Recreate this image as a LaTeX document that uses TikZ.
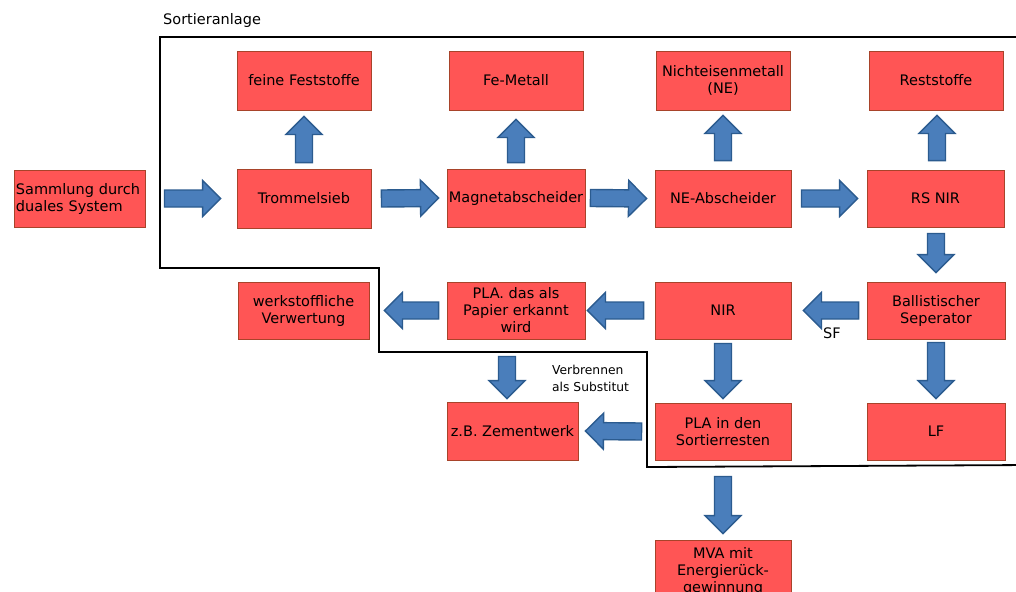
\documentclass[tikz,border=0pt]{standalone}
\usepackage{fontspec}
\setmainfont{DejaVu Sans}
\usetikzlibrary{calc}
\definecolor{boxfill}{HTML}{FF5555}
\definecolor{boxline}{HTML}{A8432A}
\definecolor{arrowfill}{HTML}{4A7EBB}
\definecolor{arrowline}{HTML}{2B5B8F}

% broad outlined block arrow from #1 (tail) to #2 (tip)
\newcommand\blockarrow[2]{%
  \path[draw=arrowline, fill=arrowfill, line width=1.4pt, line join=miter]
    let \p1=(#1), \p2=(#2),
        \n1={atan2(\y2-\y1,\x2-\x1)},
        \n2={veclen(\x2-\x1,\y2-\y1)} in
    {[shift={(\p1)}, rotate=\n1]
     (0pt,-8.5pt) -- (\n2-18pt,-8.5pt) -- (\n2-18pt,-18pt) -- (\n2,0pt)
     -- (\n2-18pt,18pt) -- (\n2-18pt,8.5pt) -- (0pt,8.5pt) -- cycle};}

\begin{document}
\begin{tikzpicture}[x=1pt,y=1pt,
  box/.style={draw=boxline, fill=boxfill, line width=0.9pt, align=center,
    inner sep=1pt, font=\fontsize{14.5}{17}\selectfont},
  label14/.style={inner sep=0pt, font=\fontsize{14.5}{17}\selectfont},
  label12/.style={inner sep=0pt, align=left, font=\fontsize{12.3}{17}\selectfont},
  plant/.style={draw=black, line width=1.8pt, line join=miter}]
\clip (0,0) rectangle (1016,-591);

% boundary of the sorting plant
\draw[plant] (1030,-37) -- (160,-37) -- (160,-268) -- (379,-268) -- (379,-352)
  -- (647,-352) -- (647,-467) -- (1030,-465);
\node[label14, anchor=base west] (title) at (163,-25) {Sortieranlage};

% process boxes
\node[box, minimum width=131pt, minimum height=57pt, text width=127pt, align=left] (samm) at (79.5,-198.5) {Sammlung durch\\duales System};
\node[box, minimum width=134pt, minimum height=59pt] (feine) at (304,-80.5) {feine Feststoffe};
\node[box, minimum width=134pt, minimum height=59pt] (trom) at (304,-198.5) {Trommelsieb};
\node[box, minimum width=134pt, minimum height=59pt] (fe) at (516,-80.5) {Fe-Metall};
\node[box, minimum width=138pt, minimum height=58pt] (mag) at (516,-198) {Magnetabscheider};
\node[box, minimum width=134pt, minimum height=59pt] (nich) at (723,-80.5) {Nichteisenmetall\\(NE)};
\node[box, minimum width=136pt, minimum height=57pt] (nea) at (723,-198.5) {NE-Abscheider};
\node[box, minimum width=134pt, minimum height=59pt] (rest) at (936,-80.5) {Reststoffe};
\node[box, minimum width=137pt, minimum height=57pt] (rs) at (935.5,-198.5) {RS NIR};
\node[box, minimum width=138pt, minimum height=57pt] (ball) at (936,-310.5) {Ballistischer\\Seperator};
\node[box, minimum width=138pt, minimum height=57pt] (lf) at (936,-431.5) {LF};
\node[box, minimum width=136pt, minimum height=57pt] (nir) at (723,-310.5) {NIR};
\node[box, minimum width=136pt, minimum height=57pt] (sort) at (723,-431.5) {PLA in den\\Sortierresten};
\node[box, minimum width=138pt, minimum height=57pt] (pap) at (516,-310.5) {PLA. das als\\Papier erkannt\\wird};
\node[box, minimum width=131pt, minimum height=57pt] (werk) at (303.5,-310.5) {werkstoffliche\\Verwertung};
\node[box, minimum width=131pt, minimum height=58pt] (zem) at (512.5,-431) {z.B. Zementwerk};
\node[box, minimum width=136pt, minimum height=62pt] (mva) at (723,-571) {MVA mit\\Energierück-\\gewinnung};

% flow arrows
\blockarrow{$(samm.east)+(19,0)$}{$(trom.west)+(-16,0)$}
\blockarrow{$(trom.east)+(10,0)$}{$(mag.west)+(-8,0)$}
\blockarrow{$(mag.east)+(5,0)$}{$(nea.west)+(-8,0)$}
\blockarrow{$(nea.east)+(10,0)$}{$(rs.west)+(-9,0)$}
\blockarrow{$(trom.north)+(0,6)$}{$(feine.south)+(0,-6)$}
\blockarrow{$(mag.north)+(0,6)$}{$(fe.south)+(0,-9)$}
\blockarrow{$(nea.north)+(0,9)$}{$(nich.south)+(0,-5)$}
\blockarrow{$(rs.north)+(1.5,9)$}{$(rest.south)+(1,-5)$}
\blockarrow{$(rs.south)+(0.5,-6)$}{$(ball.north)+(0,9)$}
\blockarrow{$(ball.west)+(-8,0)$}{$(nir.east)+(12,0)$}
\blockarrow{$(ball.south)+(0,-3)$}{$(lf.north)+(0,4)$}
\blockarrow{$(nir.west)+(-11,0)$}{$(pap.east)+(2,0)$}
\blockarrow{$(pap.west)+(-8,0)$}{$(werk.east)+(15,0)$}
\blockarrow{$(nir.south)+(0,-4)$}{$(sort.north)+(0,4)$}
\blockarrow{$(pap.south)+(-9,-17)$}{$(zem.north)+(-5.5,3)$}
\blockarrow{$(sort.west)+(-13,0)$}{$(zem.east)+(7,0)$}
\blockarrow{$(sort.south)+(0,-16)$}{$(mva.north)+(0,6)$}

% flow labels
\node[label14, anchor=base west] (sf) at (823,-338) {SF};
\node[label12, anchor=north west] (verb) at (552,-365) {Verbrennen\\als Substitut};
\end{tikzpicture}
\end{document}
